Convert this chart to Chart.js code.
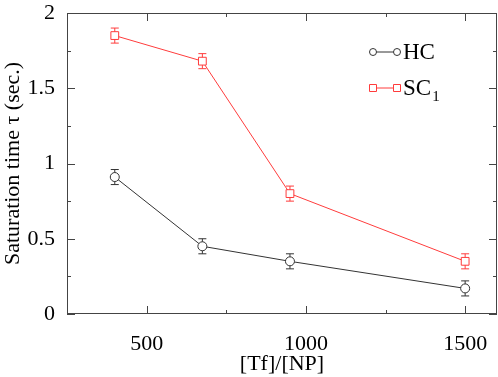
<!DOCTYPE html>
<html>
<head>
<meta charset="utf-8">
<script src="https://cdn.jsdelivr.net/npm/chart.js@4.4.1/dist/chart.umd.min.js"></script>
<style>
  html, body { margin: 0; padding: 0; background: #fff; overflow: hidden; }
  #wrap { width: 498px; height: 377px; position: relative; }
  #satChart { display: block; }
</style>
</head>
<body>
<div id="wrap"><canvas id="satChart"></canvas></div>
<script>
// ========== DATOS ==========
const ratios = [400, 675, 950, 1500];            // [Tf]/[NP]
const hcTau = [0.91, 0.45, 0.35, 0.17];
const hcErr = [0.05, 0.05, 0.05, 0.05];
const scTau = [1.85, 1.68, 0.80, 0.35];
const scErr = [0.05, 0.05, 0.05, 0.05];
const seriesNames = ['HC', 'SC'];
const seriesSubs = ['', '1'];
const xTicks = [500, 1000, 1500];
const xMinor = [750, 1250];
const yTicks = [0, 0.5, 1, 1.5, 2];
const yMinor = [0.25, 0.75, 1.25, 1.75];

const FONT = '"Liberation Serif", "Times New Roman", serif';
const RED = '#ff3c3c';
const DARK = '#333333';

function pts(xs, ys) {
    return xs.map((x, i) => ({ x: x, y: ys[i] }));
}

// barras de error, se dibujan antes de los puntos
const errorBars = {
    id: 'errorBars',
    beforeDatasetsDraw(chart) {
        const ctx = chart.ctx;
        const xs = chart.scales.x, ys = chart.scales.y;
        chart.data.datasets.forEach((ds) => {
            ctx.save();
            ctx.strokeStyle = ds.borderColor;
            ctx.lineWidth = 1;
            ds.data.forEach((p, i) => {
                const e = ds.errors[i];
                const px = xs.getPixelForValue(p.x);
                const top = ys.getPixelForValue(p.y + e);
                const bot = ys.getPixelForValue(p.y - e);
                ctx.beginPath();
                ctx.moveTo(px, top); ctx.lineTo(px, bot);
                ctx.moveTo(px - 4, top); ctx.lineTo(px + 4, top);
                ctx.moveTo(px - 4, bot); ctx.lineTo(px + 4, bot);
                ctx.stroke();
            });
            ctx.restore();
        });
    }
};

// marco y marcas hacia adentro en los cuatro lados
const frameTicks = {
    id: 'frameTicks',
    afterDraw(chart) {
        const ctx = chart.ctx;
        const a = chart.chartArea;
        const xs = chart.scales.x, ys = chart.scales.y;
        ctx.save();
        ctx.strokeStyle = '#444';
        ctx.lineWidth = 1;
        ctx.strokeRect(a.left + 0.5, a.top + 0.5, a.right - a.left - 1, a.bottom - a.top - 1);
        ctx.beginPath();
        const xt = (vals, len) => vals.forEach(v => {
            const px = Math.round(xs.getPixelForValue(v)) + 0.5;
            ctx.moveTo(px, a.bottom); ctx.lineTo(px, a.bottom - len);
            ctx.moveTo(px, a.top); ctx.lineTo(px, a.top + len);
        });
        const yt = (vals, len) => vals.forEach(v => {
            const py = Math.round(ys.getPixelForValue(v)) + 0.5;
            ctx.moveTo(a.left, py); ctx.lineTo(a.left + len, py);
            ctx.moveTo(a.right, py); ctx.lineTo(a.right - len, py);
        });
        xt(xTicks, 8); xt(xMinor, 4);
        yt(yTicks, 8); yt(yMinor, 4);
        ctx.stroke();
        ctx.restore();
    }
};

// leyenda arriba a la derecha
const legendBox = {
    id: 'legendBox',
    afterDraw(chart) {
        const ctx = chart.ctx;
        ctx.save();
        chart.data.datasets.forEach((ds, i) => {
            const y = 52 + i * 36;
            const x0 = 373, x1 = 397;
            ctx.strokeStyle = ds.borderColor;
            ctx.fillStyle = '#fff';
            ctx.lineWidth = 1;
            ctx.beginPath();
            ctx.moveTo(x0, y); ctx.lineTo(x1, y);
            ctx.stroke();
            [x0, x1].forEach(cx => {
                ctx.beginPath();
                if (ds.pointStyle === 'rect') {
                    ctx.rect(cx - 3.5, y - 3.5, 7, 7);
                } else {
                    ctx.arc(cx, y, 3.5, 0, Math.PI * 2);
                }
                ctx.fill();
                ctx.stroke();
            });
            ctx.fillStyle = '#000';
            ctx.textBaseline = 'middle';
            ctx.font = '23px ' + FONT;
            ctx.fillText(seriesNames[i], 403, y + 1);
            if (seriesSubs[i]) {
                const w = ctx.measureText(seriesNames[i]).width;
                ctx.font = '15px ' + FONT;
                ctx.fillText(seriesSubs[i], 403 + w + 1, y + 9);
            }
        });
        ctx.restore();
    }
};

const ctx = document.getElementById('satChart').getContext('2d');
const satChart = new Chart(ctx, {
    type: 'scatter',
    data: {
        datasets: [{
            label: seriesNames[0],
            data: pts(ratios, hcTau),
            errors: hcErr,
            showLine: true,
            borderColor: DARK,
            backgroundColor: '#fff',
            borderWidth: 1,
            pointStyle: 'circle',
            pointRadius: 4.5,
            pointBorderWidth: 1,
            pointBackgroundColor: '#fff'
        }, {
            label: seriesNames[1] + seriesSubs[1],
            data: pts(ratios, scTau),
            errors: scErr,
            showLine: true,
            borderColor: RED,
            backgroundColor: '#fff',
            borderWidth: 1,
            pointStyle: 'rect',
            pointRadius: 5.5,
            pointBorderWidth: 1,
            pointBackgroundColor: '#fff'
        }]
    },
    options: {
        responsive: true,
        maintainAspectRatio: false,
        animation: false,
        layout: { autoPadding: false, padding: { top: 13, right: 1, left: 0, bottom: 0 } },
        plugins: {
            legend: { display: false },
            tooltip: { enabled: false }
        },
        scales: {
            x: {
                type: 'linear',
                min: 250,
                max: 1600,
                afterBuildTicks: (s) => { s.ticks = xTicks.map(v => ({ value: v })); },
                afterFit: (s) => {
                    s.height = 63;
                    s.paddingLeft = 0;
                    s.paddingRight = 0;
                },
                grid: { display: false },
                border: { display: false },
                ticks: {
                    color: '#000',
                    font: { family: FONT, size: 22 },
                    padding: 9,
                    maxRotation: 0,
                    callback: (v) => String(v)
                },
                title: {
                    display: true,
                    text: '[Tf]/[NP]',
                    color: '#000',
                    font: { family: FONT, size: 22 },
                    padding: { top: 2, bottom: 0 }
                }
            },
            y: {
                type: 'linear',
                min: 0,
                max: 2,
                afterBuildTicks: (s) => { s.ticks = yTicks.map(v => ({ value: v })); },
                afterFit: (s) => {
                    s.width = 67;
                    s.paddingTop = 0;
                    s.paddingBottom = 0;
                },
                grid: { display: false },
                border: { display: false },
                ticks: {
                    color: '#000',
                    font: { family: FONT, size: 22 },
                    padding: 4,
                    callback: (v) => String(v)
                },
                title: {
                    display: true,
                    text: 'Saturation time τ (sec.)',
                    color: '#000',
                    font: { family: FONT, size: 22 },
                    padding: { top: 0, bottom: 0 }
                }
            }
        }
    },
    plugins: [errorBars, frameTicks, legendBox]
});
</script>
</body>
</html>
